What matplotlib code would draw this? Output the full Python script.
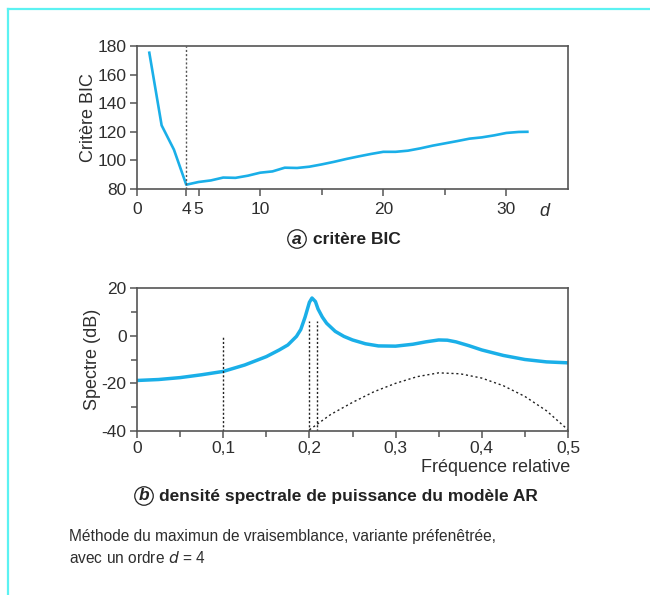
import matplotlib.pyplot as plt
from matplotlib.lines import Line2D
from matplotlib.ticker import FixedLocator, FuncFormatter

plt.rcParams['font.family'] = ['Liberation Sans', 'DejaVu Sans']
plt.rcParams['axes.unicode_minus'] = False

blue = '#1aafe8'
grey = '#555555'
txt = '#2e2e2e'

# (a) BIC criterion versus model order d
ordre = [1, 2, 3, 4, 5, 6, 7, 8, 9, 10, 11, 12, 13, 14, 15, 16,
         17, 18, 19, 20, 21, 22, 23, 24, 25, 26, 27, 28, 29, 30, 31, 31.7]
bic = [175.3, 124.5, 107.5, 83.0, 84.9, 86.0, 88.0, 87.8, 89.3, 91.4, 92.3, 94.9,
       94.7, 95.6, 97.2, 99.0, 101.0, 102.8, 104.5, 106.0, 106.0, 106.8, 108.4,
       110.3, 111.9, 113.5, 115.2, 116.1, 117.5, 119.2, 119.9, 120.0]
ordre_choisi = 4

# (b) AR spectrum (dB) versus relative frequency
freq = [0.0, 0.025, 0.05, 0.075, 0.1, 0.125, 0.15, 0.165, 0.175, 0.185, 0.19,
        0.195, 0.2, 0.203, 0.207, 0.21, 0.215, 0.22, 0.23, 0.24, 0.25, 0.265,
        0.28, 0.3, 0.32, 0.335, 0.35, 0.36, 0.37, 0.385, 0.4, 0.425, 0.45,
        0.475, 0.5]
spectre = [-18.8, -18.4, -17.6, -16.4, -15.0, -12.3, -8.8, -6.0, -3.9, -0.3, 2.6,
           7.8, 14.0, 15.8, 14.3, 11.2, 7.8, 5.2, 1.8, -0.3, -1.8, -3.4, -4.3,
           -4.4, -3.6, -2.6, -1.8, -1.9, -2.6, -4.2, -6.0, -8.3, -10.0, -11.0,
           -11.4]
freq_pointille = [0.2, 0.225, 0.25, 0.275, 0.3, 0.325, 0.35, 0.375, 0.4, 0.425,
                  0.45, 0.475, 0.5]
spectre_pointille = [-39.5, -33.0, -28.0, -23.5, -20.0, -17.2, -15.6, -16.0,
                     -17.8, -21.0, -25.5, -31.5, -39.5]
raies = [0.1, 0.2, 0.209]
raies_haut = [0.0, 6.0, 6.0]

fig = plt.figure(figsize=(6.5, 5.95), dpi=100)

# cyan frame (top and left)
fig.add_artist(Line2D([8 / 650, 1.0], [1 - 9 / 595, 1 - 9 / 595], color='#5cf2f2', lw=1.6))
fig.add_artist(Line2D([8 / 650, 8 / 650], [0.0, 1 - 9 / 595], color='#5cf2f2', lw=1.6))


def style(ax, xpad):
    for s in ax.spines.values():
        s.set_color(grey)
        s.set_linewidth(1.2)
    ax.tick_params(which='both', direction='out', color=grey, labelcolor=txt,
                   labelsize=12.5, width=1.1, pad=2.5)
    ax.tick_params(which='major', length=5)
    ax.tick_params(which='minor', length=4)
    ax.tick_params(axis='x', which='both', pad=xpad)


axa = fig.add_axes([137 / 650, 1 - 189 / 595, 431 / 650, 143 / 595])
axa.plot(ordre, bic, color=blue, lw=1.9, solid_joinstyle='round')
axa.plot([ordre_choisi, ordre_choisi], [80, 180], color=grey, lw=1.0, ls=(0, (1.5, 1.5)))
axa.set_xlim(0, 35)
axa.set_ylim(80, 180)
axa.xaxis.set_major_locator(FixedLocator([0, 4, 5, 10, 20, 30]))
axa.xaxis.set_minor_locator(FixedLocator([15, 25]))
axa.set_yticks([80, 100, 120, 140, 160, 180])
axa.set_ylabel('Critère BIC', fontsize=13, color=txt, labelpad=0.5)
style(axa, 4.5)
axa.text(0.945, -0.16, 'd', transform=axa.transAxes, fontsize=13, style='italic',
         color=txt, ha='center', va='center')

axb = fig.add_axes([137 / 650, 1 - 431 / 595, 431 / 650, 143 / 595])
axb.plot(freq, spectre, color=blue, lw=2.5, solid_joinstyle='round')
axb.plot(freq_pointille, spectre_pointille, color='#222222', lw=1.0, ls=(0, (1.5, 2)))
for f, h in zip(raies, raies_haut):
    axb.plot([f, f], [-40, h], color='#222222', lw=1.0, ls=(0, (1.5, 1.5)))
axb.set_xlim(0, 0.5)
axb.set_ylim(-40, 20)
axb.xaxis.set_major_locator(FixedLocator([0, 0.1, 0.2, 0.3, 0.4, 0.5]))
axb.xaxis.set_minor_locator(FixedLocator([0.05, 0.15, 0.25, 0.35, 0.45]))
axb.xaxis.set_major_formatter(FuncFormatter(lambda v, p: ('%g' % v).replace('.', ',')))
axb.yaxis.set_major_locator(FixedLocator([-40, -20, 0, 20]))
axb.yaxis.set_minor_locator(FixedLocator([-30, -10, 10]))
axb.set_ylabel('Spectre (dB)', fontsize=13, color=txt, labelpad=0.5)
style(axb, 2.0)
axb.text(1.005, -0.255, 'Fréquence relative', transform=axb.transAxes, fontsize=13,
         color=txt, ha='right', va='center')

# captions
circ = dict(boxstyle='circle,pad=0.1', fc='white', ec='#222222', lw=0.9)
fig.text(297 / 650, 1 - 239 / 595, 'a', fontsize=12.5, style='italic', weight='bold',
         ha='center', va='center', bbox=circ, color='#222222')
fig.text(313 / 650, 1 - 239 / 595, 'critère BIC', fontsize=12.5, weight='bold',
         ha='left', va='center', color='#222222')
fig.text(144 / 650, 1 - 496 / 595, 'b', fontsize=12.5, style='italic', weight='bold',
         ha='center', va='center', bbox=circ, color='#222222')
fig.text(159 / 650, 1 - 496 / 595, 'densité spectrale de puissance du modèle AR',
         fontsize=12.5, weight='bold', ha='left', va='center', color='#222222')

fig.text(69 / 650, 1 - 537 / 595, 'Méthode du maximun de vraisemblance, variante préfenêtrée,',
         fontsize=11.2, ha='left', va='center', color=txt)
fig.text(69 / 650, 1 - 558 / 595, 'avec un ordre $\\it{d}$ = 4',
         fontsize=11.2, ha='left', va='center', color=txt)

fig.savefig('out.png', dpi=100, facecolor='white')
